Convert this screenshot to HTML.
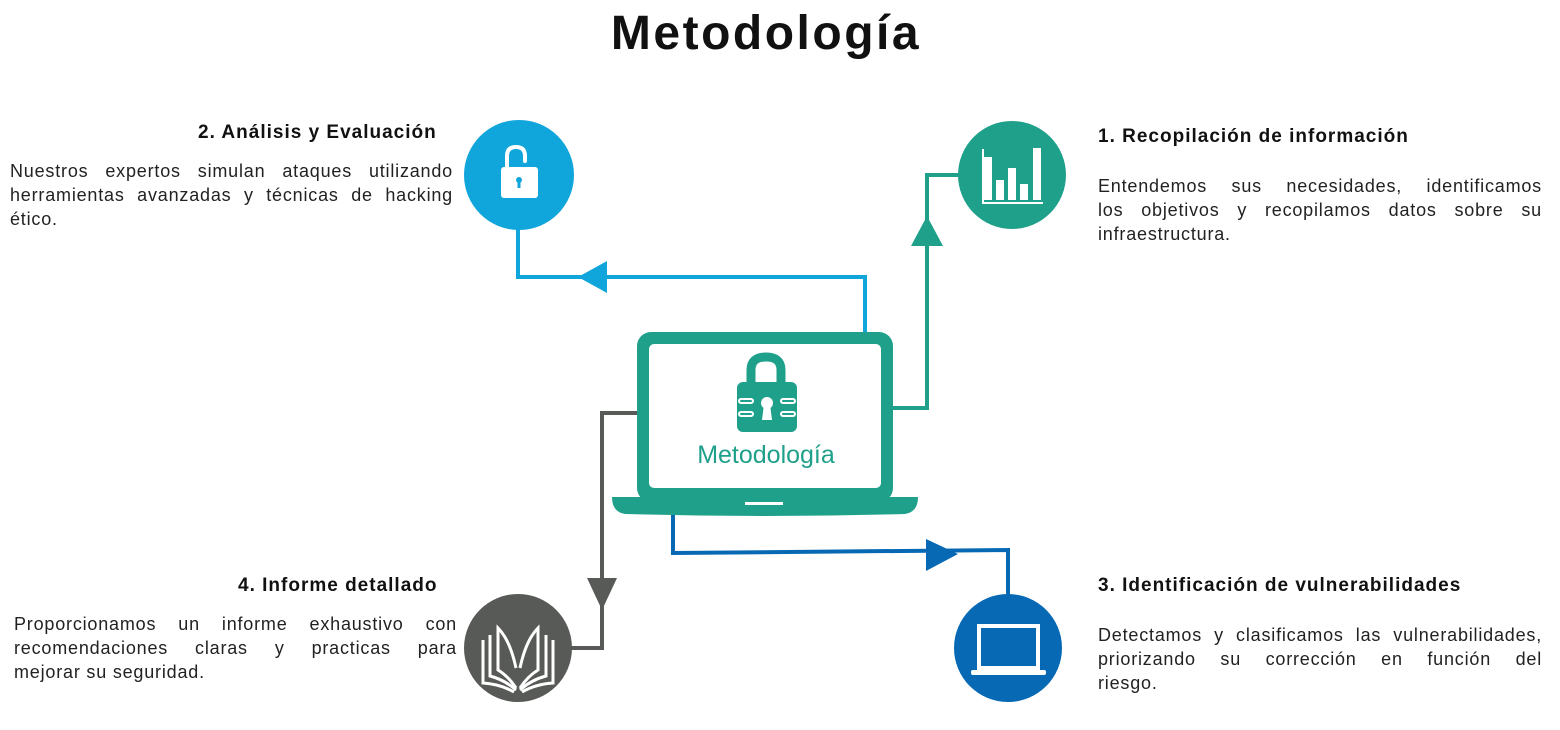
<!DOCTYPE html>
<html><head><meta charset="utf-8"><style>
body{margin:0;width:1560px;height:730px;background:#fff;position:relative;overflow:hidden;font-family:"Liberation Sans",sans-serif;color:#111}
.t{position:absolute;font-weight:bold;font-size:19px;letter-spacing:1px;white-space:nowrap}
.p{position:absolute;font-size:18px;letter-spacing:0.8px;line-height:24px;color:#222}
.p span{display:block;text-align:justify;text-align-last:justify;white-space:nowrap}
.p span.l{text-align-last:left}
</style></head><body>
<div style="position:absolute;left:0;width:1532px;top:6px;text-align:center;font-weight:bold;font-size:48px;letter-spacing:2.5px">Metodología</div>
<svg width="1560" height="730" style="position:absolute;left:0;top:0">
<polyline points="518,225 518,277 865,277 865,334" fill="none" stroke="#11a6db" stroke-width="4"/>
<polygon points="578,277 607,261 607,293" fill="#11a6db"/>
<polyline points="890,408 927,408 927,175 960,175" fill="none" stroke="#1fa08a" stroke-width="4"/>
<polygon points="927,216 911,246 943,246" fill="#1fa08a"/>
<polyline points="640,413 602,413 602,648 570,648" fill="none" stroke="#585a57" stroke-width="4"/>
<polygon points="602,610 587,578 617,578" fill="#585a57"/>
<polyline points="673,512 673,553 1008,550 1008,596" fill="none" stroke="#0769b3" stroke-width="4"/>
<polygon points="958,554 926,539 926,571" fill="#0769b3"/>
<rect x="637" y="332" width="256" height="170" rx="14" fill="#1fa08a"/>
<rect x="649" y="344" width="232" height="144" rx="5" fill="#fff"/>
<path d="M612,497 H918 Q918,512 905,514 Q765,518 625,514 Q612,512 612,497Z" fill="#1fa08a"/>
<rect x="745" y="502" width="38" height="3" fill="#fff"/>
<path d="M751,385 V370 Q751,357 766,357 Q781,357 781,370 V385" fill="none" stroke="#1fa08a" stroke-width="9"/>
<rect x="737" y="382" width="60" height="50" rx="6" fill="#1fa08a"/>
<circle cx="767" cy="403" r="6" fill="#fff"/><polygon points="764,404 770,404 772,420 762,420" fill="#fff"/>
<g stroke="#fff" stroke-width="2" fill="none"><rect x="739" y="399" width="14" height="4" rx="2"/><rect x="739" y="412" width="14" height="4" rx="2"/><rect x="781" y="399" width="14" height="4" rx="2"/><rect x="781" y="412" width="14" height="4" rx="2"/></g>
<text x="766" y="463" text-anchor="middle" font-family="Liberation Sans,sans-serif" font-size="25" fill="#1fa08a">Metodología</text>
<circle cx="519" cy="175" r="55" fill="#11a6db"/>
<circle cx="1012" cy="175" r="54" fill="#1fa08a"/>
<circle cx="518" cy="648" r="54" fill="#585a57"/>
<circle cx="1008" cy="648" r="54" fill="#0769b3"/>
<path d="M507,168 V156 Q507,147 516,147 Q525,147 525,156 V161" fill="none" stroke="#fff" stroke-width="4" stroke-linecap="round"/>
<rect x="501" y="167" width="37" height="31" rx="3" fill="#fff"/>
<circle cx="519" cy="180" r="3" fill="#11a6db"/><rect x="517.5" y="181" width="3" height="7" fill="#11a6db"/>
<g fill="#fff"><rect x="984" y="157" width="8" height="43"/><rect x="996" y="180" width="8" height="20"/><rect x="1008" y="168" width="8" height="32"/><rect x="1020" y="184" width="8" height="16"/><rect x="1033" y="148" width="8" height="52"/><rect x="982" y="149" width="2" height="54"/><rect x="982" y="202" width="61" height="2"/></g>
<g stroke="#fff" stroke-width="3" fill="none"><path d="M516,668 Q510,640 498,628 V670 Q508,676 516,688"/><path d="M520,668 Q526,640 538,628 V670 Q528,676 520,688"/><path d="M490,635 V676 Q505,680 516,690"/><path d="M546,635 V676 Q531,680 520,690"/><path d="M483,640 V683 Q500,684 514,692"/><path d="M553,640 V683 Q536,684 522,692"/></g>
<rect x="979" y="626" width="59" height="42" fill="none" stroke="#fff" stroke-width="4"/>
<rect x="971" y="670" width="75" height="5" rx="2" fill="#fff"/>
</svg>
<div class="t" style="left:198px;top:122px">2. Análisis y Evaluación</div>
<div class="p" style="left:10px;top:159px;width:443px"><span>Nuestros expertos simulan ataques utilizando</span><span>herramientas avanzadas y técnicas de hacking</span><span class="l">ético.</span></div>
<div class="t" style="left:1098px;top:126px">1. Recopilación de información</div>
<div class="p" style="left:1098px;top:174px;width:444px"><span>Entendemos sus necesidades, identificamos</span><span>los objetivos y recopilamos datos sobre su</span><span class="l">infraestructura.</span></div>
<div class="t" style="left:238px;top:575px">4. Informe detallado</div>
<div class="p" style="left:14px;top:612px;width:443px"><span>Proporcionamos un informe exhaustivo con</span><span>recomendaciones claras y practicas para</span><span class="l">mejorar su seguridad.</span></div>
<div class="t" style="left:1098px;top:575px">3. Identificación de vulnerabilidades</div>
<div class="p" style="left:1098px;top:623px;width:444px"><span>Detectamos y clasificamos las vulnerabilidades,</span><span>priorizando su corrección en función del</span><span class="l">riesgo.</span></div>
</body></html>
